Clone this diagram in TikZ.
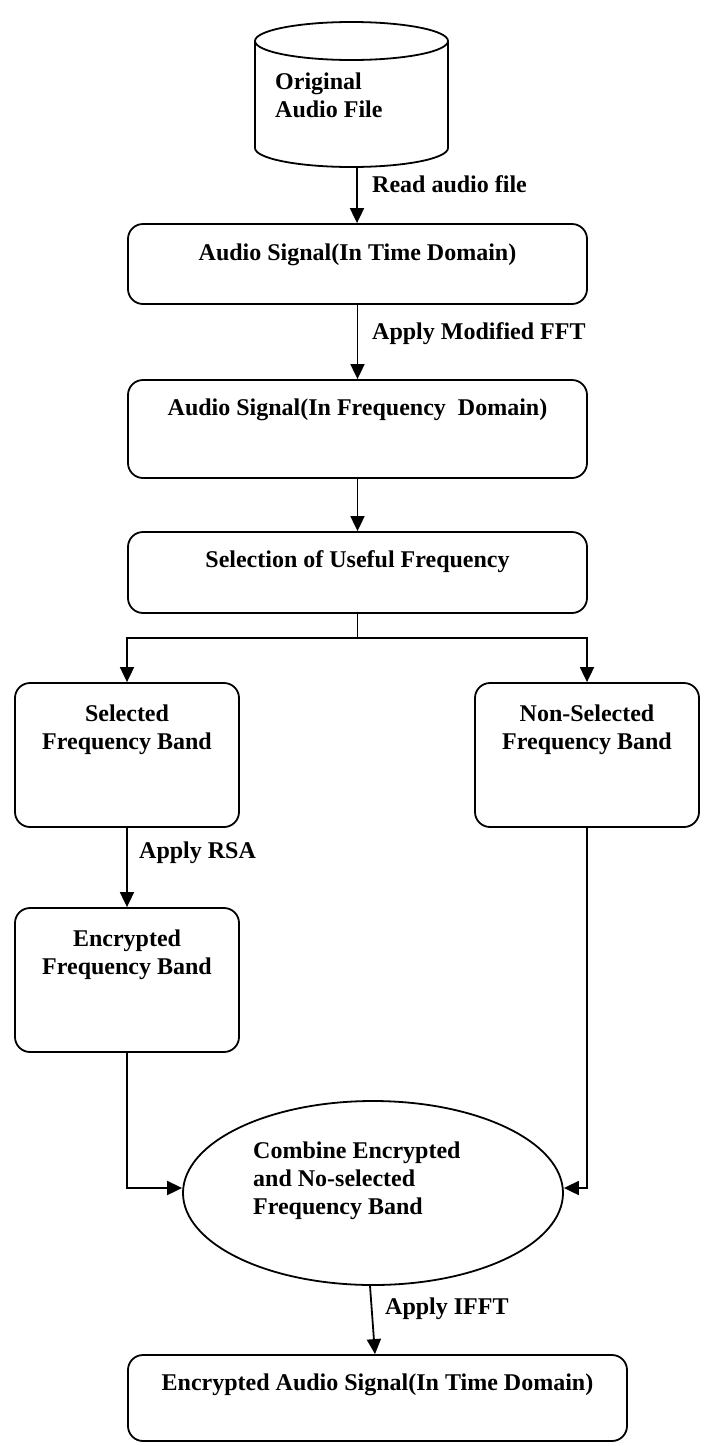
\documentclass[tikz,border=0pt]{standalone}
\usepackage{fontspec}
\setmainfont{Liberation Serif}
\usetikzlibrary{arrows.meta,shapes.geometric,calc}
\begin{document}
\begin{tikzpicture}[x=1pt,y=-1pt,
  every node/.style={font=\fontsize{24}{28}\selectfont\bfseries},
  box/.style={draw, line width=1.8pt, rounded corners=15pt, inner sep=0pt},
  txt/.style={inner sep=0pt, align=center},
  lbl/.style={inner sep=0pt, anchor=west},
  link/.style={line width=1.8pt},
  arr/.style={link, -{Triangle[length=15pt,width=14pt]}}]
\fill[white] (0,0) rectangle (704,1446);
\useasboundingbox (0,0) rectangle (704,1446);

% data store: cylinder
\draw[link] (351.5,41) ellipse [x radius=96.5pt, y radius=19pt];
\draw[link] (255,41) -- (255,148)
  arc[start angle=180, end angle=360, x radius=96.5pt, y radius=19pt] -- (448,41);
\node[txt, align=left, anchor=west] (dbtext) at (275,95) {Original\\Audio File};
\coordinate (dbout) at (357,167);

% process boxes
\node[box, minimum width=459pt, minimum height=80pt] (b1) at (357.5,264) {};
\node[txt] (t1) at ([yshift=-32pt]b1.north) {Audio Signal(In Time Domain)};

\node[box, minimum width=459pt, minimum height=98pt] (b2) at (357.5,429) {};
\node[txt] (t2) at ([yshift=-31pt]b2.north) {Audio Signal(In Frequency\ \ Domain)};

\node[box, minimum width=459pt, minimum height=81pt] (b3) at (357.5,572.5) {};
\node[txt] (t3) at ([yshift=-31pt]b3.north) {Selection of Useful Frequency};

\node[box, minimum width=224pt, minimum height=144pt] (sel) at (127,755) {};
\node[txt] (tsel) at ([yshift=-48pt]sel.north) {Selected\\Frequency Band};

\node[box, minimum width=224pt, minimum height=144pt] (nsel) at (587,755) {};
\node[txt] (tnsel) at ([yshift=-48pt]nsel.north) {Non-Selected\\Frequency Band};

\node[box, minimum width=224pt, minimum height=144pt] (enc) at (127,980) {};
\node[txt] (tenc) at ([yshift=-48pt]enc.north) {Encrypted\\Frequency Band};

\node[draw, line width=1.8pt, ellipse, inner sep=0pt,
      minimum width=380pt, minimum height=184pt] (comb) at (373,1193) {};
\node[txt, align=left, anchor=west] (tcomb) at (253,1181)
  {Combine Encrypted\\and No-selected\\Frequency Band};

\node[box, minimum width=499pt, minimum height=86pt] (out) at (377.5,1398) {};
\node[txt] (tout) at ([yshift=-31pt]out.north) {Encrypted Audio Signal(In Time Domain)};

% connectors
\draw[arr] (dbout) -- (dbout |- b1.north);
\node[lbl] (l1) at (372,184) {Read audio file};

\draw[arr] (b1.south) -- (b2.north);
\node[lbl] (l2) at (372,334) {Apply Modified FFT};

\draw[arr] (b2.south) -- (b3.north);

\coordinate (split) at (357.5,638);
\draw[link] (b3.south) -- (split);
\draw[arr] (split) -| (sel.north);
\draw[arr] (split) -| (nsel.north);

\draw[arr] (sel.south) -- (enc.north);
\node[lbl] (l3) at (139,853) {Apply RSA};

\draw[arr] (enc.south) |- ([yshift=5pt]comb.west);
\draw[arr] (nsel.south) |- ([yshift=5pt]comb.east);

\draw[arr] ([xshift=-3pt]comb.south) -- ([xshift=-2.5pt]out.north);
\node[lbl] (l4) at (385,1309) {Apply IFFT};
\end{tikzpicture}
\end{document}
